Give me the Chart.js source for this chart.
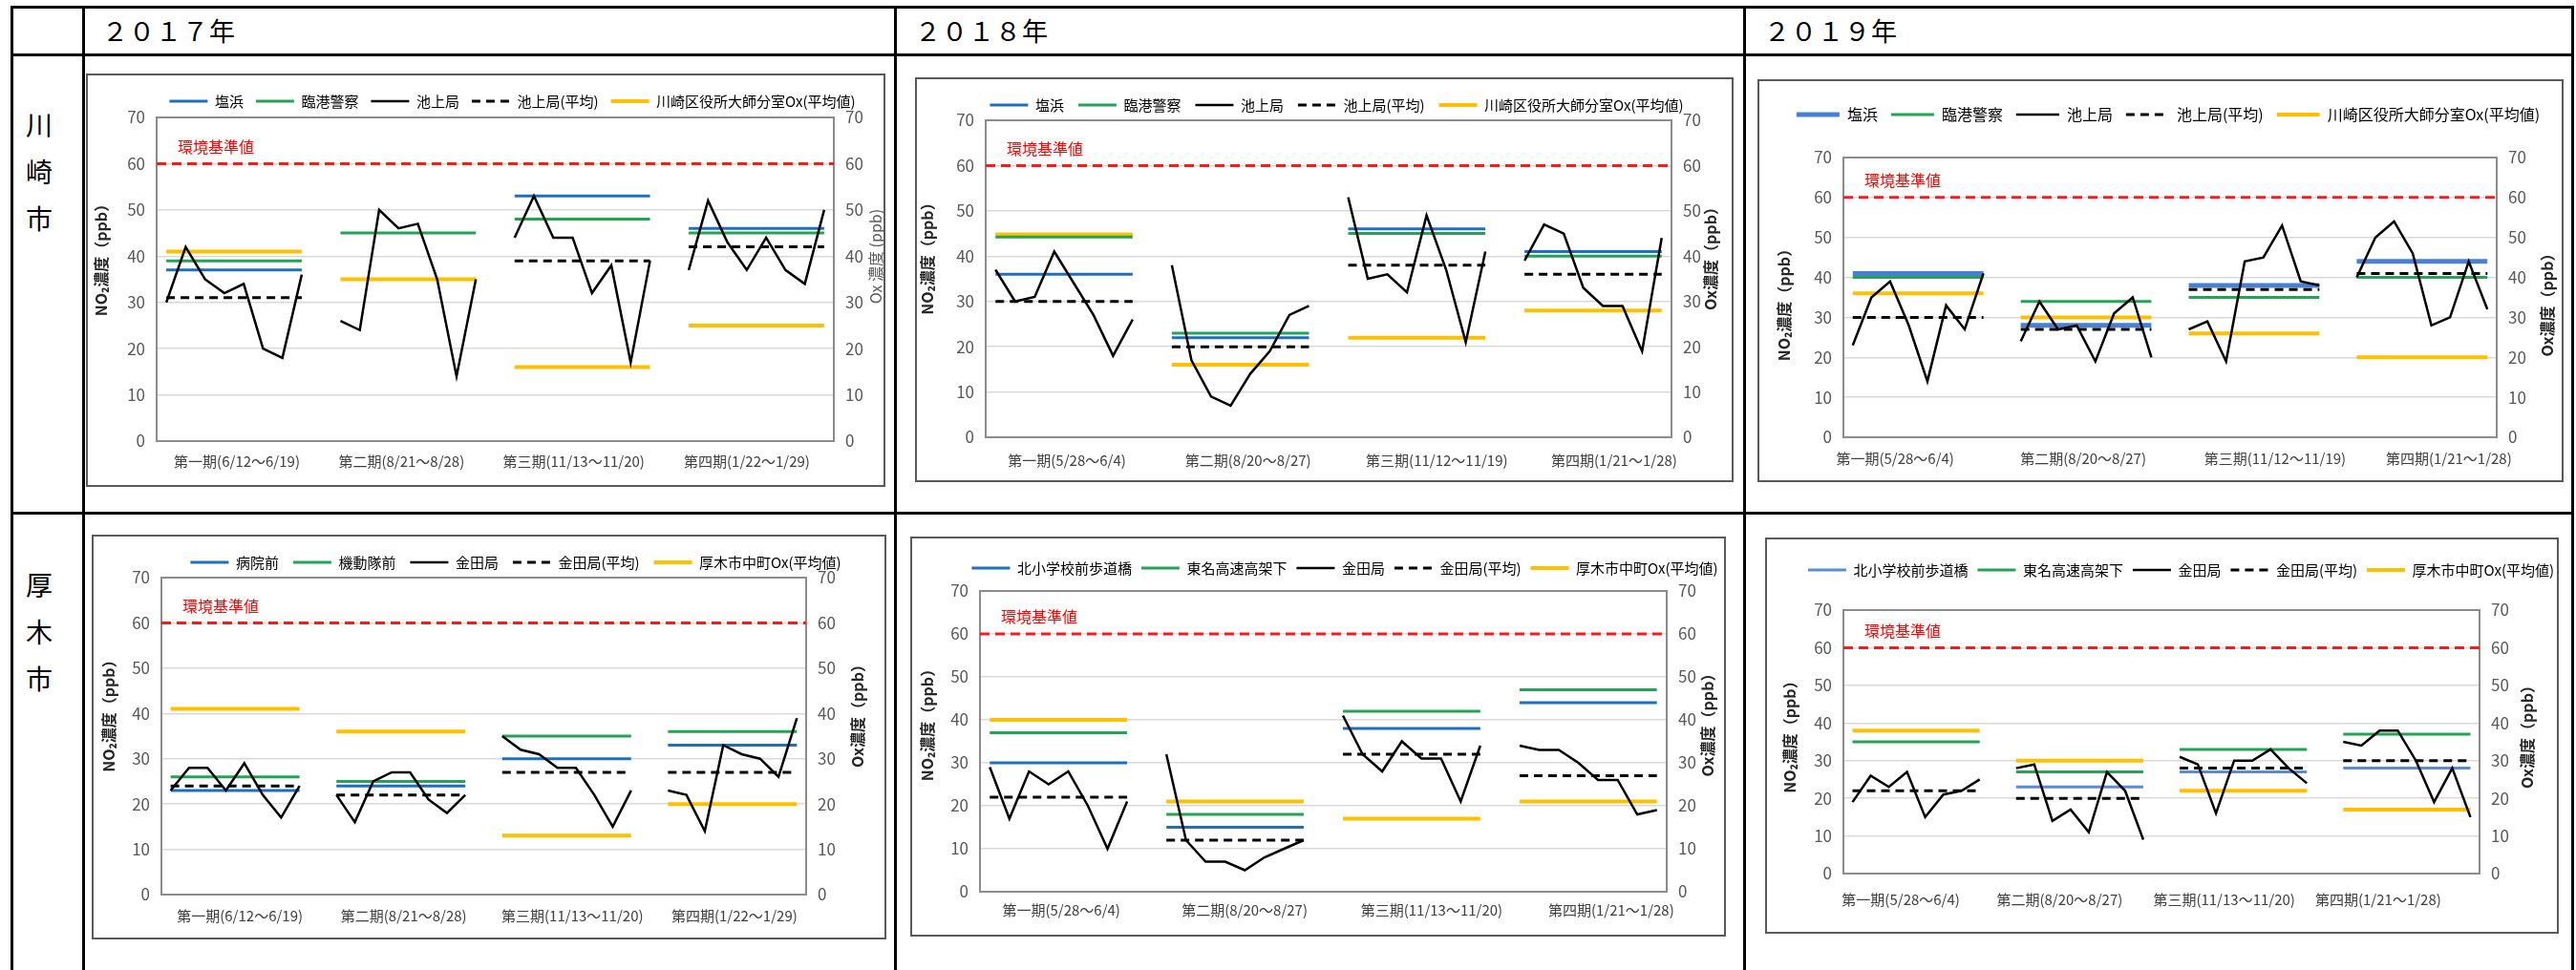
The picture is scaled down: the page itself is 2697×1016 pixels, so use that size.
<!DOCTYPE html>
<html lang="ja">
<head>
<meta charset="utf-8">
<title>NO2・Ox濃度の推移</title>
<script src="https://cdn.jsdelivr.net/npm/chart.js@4.4.1/dist/chart.umd.min.js"></script>
<style>
  html, body { margin: 0; padding: 0; background: #fff; overflow: hidden; }
  body { position: relative; width: 2697px; height: 1016px; font-family: "Noto Sans CJK JP", sans-serif; color: #000; }
  .hline { position: absolute; height: 3px; background: #000; }
  .vline { position: absolute; width: 3px; background: #000; }
  .year { position: absolute; top: 14px; font-size: 27px; line-height: 36px; letter-spacing: 1px; }
  .city { position: absolute; left: 26px; width: 30px; font-size: 28px; line-height: 49px; text-align: center; }
  .frame { position: absolute; border: 2px solid #5a5a5a; box-sizing: border-box; }
  canvas { position: absolute; }
</style>
</head>
<body>
<div class="hline" style="left:11px; top:6px; width:2684px;"></div>
<div class="hline" style="left:11px; top:56px; width:2684px;"></div>
<div class="hline" style="left:11px; top:536px; width:2684px;"></div>
<div class="vline" style="left:11px; top:6px; height:1020px;"></div>
<div class="vline" style="left:86px; top:6px; height:1020px;"></div>
<div class="vline" style="left:936px; top:6px; height:1020px;"></div>
<div class="vline" style="left:1825px; top:6px; height:1020px;"></div>
<div class="vline" style="left:2692px; top:6px; height:1020px;"></div>

<div class="year" style="left:107px;">２０１７年</div>
<div class="year" style="left:958px;">２０１８年</div>
<div class="year" style="left:1847px;">２０１９年</div>

<div class="city" style="top:106px;">川<br>崎<br>市</div>
<div class="city" style="top:588px;">厚<br>木<br>市</div>

<script>
// ---- data ----
const standardNO2 = 60;
const standardLabel = "環境基準値";

const kawasakiNames = ["塩浜", "臨港警察", "池上局", "池上局(平均)", "川崎区役所大師分室Ox(平均値)"];
const atsugiNames2017 = ["病院前", "機動隊前", "金田局", "金田局(平均)", "厚木市中町Ox(平均値)"];
const atsugiNames = ["北小学校前歩道橋", "東名高速高架下", "金田局", "金田局(平均)", "厚木市中町Ox(平均値)"];

const periods2017 = ["第一期(6/12～6/19)", "第二期(8/21～8/28)", "第三期(11/13～11/20)", "第四期(1/22～1/29)"];
const periodsKawasaki = ["第一期(5/28～6/4)", "第二期(8/20～8/27)", "第三期(11/12～11/19)", "第四期(1/21～1/28)"];
const periodsAtsugi = ["第一期(5/28～6/4)", "第二期(8/20～8/27)", "第三期(11/13～11/20)", "第四期(1/21～1/28)"];

// 川崎市 2017
const kawasaki2017Daily = [
  [30, 42, 35, 32, 34, 20, 18, 36],
  [26, 24, 50, 46, 47, 35, 14, 35],
  [44, 53, 44, 44, 32, 38, 17, 39],
  [37, 52, 43, 37, 44, 37, 34, 50]
];
const kawasaki2017Site1 = [37, null, 53, 46];
const kawasaki2017Site2 = [39, 45, 48, 45];
const kawasaki2017Avg = [31, null, 39, 42];
const kawasaki2017Ox = [41, 35, 16, 25];

// 川崎市 2018
const kawasaki2018Daily = [
  [37, 30, 31, 41, 34, 27, 18, 26],
  [38, 17, 9, 7, 14, 19, 27, 29],
  [53, 35, 36, 32, 49, 37, 21, 41],
  [39, 47, 45, 33, 29, 29, 19, 44]
];
const kawasaki2018Site1 = [36, 22, 46, 41];
const kawasaki2018Site2 = [44.2, 23, 45, 40];
const kawasaki2018Avg = [30, 20, 38, 36];
const kawasaki2018Ox = [44.8, 16, 22, 28];

// 川崎市 2019
const kawasaki2019Daily = [
  [23, 35, 39, 28, 14, 33, 27, 41],
  [24, 34, 27, 28, 19, 31, 35, 20],
  [27, 29, 19, 44, 45, 53, 39, 38],
  [40, 50, 54, 46, 28, 30, 44, 32]
];
const kawasaki2019Site1 = [41, 28, 38, 44];
const kawasaki2019Site2 = [40, 34, 35, 40];
const kawasaki2019Avg = [30, 27, 37, 41];
const kawasaki2019Ox = [36, 30, 26, 20];

// 厚木市 2017
const atsugi2017Daily = [
  [23, 28, 28, 23, 29, 22, 17, 24],
  [22, 16, 25, 27, 27, 21, 18, 22],
  [35, 32, 31, 28, 28, 22, 15, 23],
  [23, 22, 14, 33, 31, 30, 26, 39]
];
const atsugi2017Site1 = [23, 24, 30, 33];
const atsugi2017Site2 = [26, 25, 35, 36];
const atsugi2017Avg = [24, 22, 27, 27];
const atsugi2017Ox = [41, 36, 13, 20];

// 厚木市 2018
const atsugi2018Daily = [
  [29, 17, 28, 25, 28, 20, 10, 21],
  [32, 12, 7, 7, 5, 8, 10, 12],
  [41, 32, 28, 35, 31, 31, 21, 34],
  [34, 33, 33, 30, 26, 26, 18, 19]
];
const atsugi2018Site1 = [30, 15, 38, 44];
const atsugi2018Site2 = [37, 18, 42, 47];
const atsugi2018Avg = [22, 12, 32, 27];
const atsugi2018Ox = [40, 21, 17, 21];

// 厚木市 2019
const atsugi2019Daily = [
  [19, 26, 23, 27, 15, 21, 22, 25],
  [28, 29, 14, 17, 11, 27, 22, 9],
  [31, 29, 16, 30, 30, 33, 28, 24],
  [35, 34, 38, 38, 30, 19, 28, 15]
];
const atsugi2019Site1 = [null, 23, 27, 28];
const atsugi2019Site2 = [35, 27, 33, 37];
const atsugi2019Avg = [22, 20, 28, 30];
const atsugi2019Ox = [38, 30, 22, 17];

// ---- drawing ----
const FONT = '"Noto Sans CJK JP", "Noto Sans", sans-serif';
Chart.defaults.font.family = FONT;

const DAYS = 8;
const STEP = 9; // 8 days + 1 empty slot between periods
const SLOTS = STEP * 4 - 1;

function flatSeries(values) {
  const pts = [];
  values.forEach(function (v, p) {
    if (v === null) return;
    pts.push({ x: p * STEP, y: v }, { x: p * STEP + DAYS - 1, y: v }, { x: p * STEP + DAYS, y: null });
  });
  return pts;
}

function dailySeries(rows) {
  const pts = [];
  rows.forEach(function (row, p) {
    row.forEach(function (v, d) {
      pts.push({ x: p * STEP + d, y: v });
    });
    pts.push({ x: p * STEP + DAYS, y: null });
  });
  return pts;
}

const decorPlugin = {
  id: "decor",
  afterLayout(chart, args, opts) {
    // legend sits a little right of centre in the original
    if (chart.legend) {
      chart.legend.left += opts.legendShift;
      chart.legend.right += opts.legendShift;
    }
  },
  beforeDatasetsDraw(chart) {
    const a = chart.chartArea;
    const ctx = chart.ctx;
    ctx.save();
    ctx.strokeStyle = "#8c8c8c";
    ctx.lineWidth = 2;
    ctx.strokeRect(a.left, a.top, a.right - a.left, a.bottom - a.top);
    ctx.restore();
  },
  afterDraw(chart, args, opts) {
    const ctx = chart.ctx;
    const a = chart.chartArea;
    const y = chart.scales.y;
    ctx.save();
    ctx.fillStyle = "#ff0000";
    ctx.font = "16px " + FONT;
    ctx.textAlign = "left";
    ctx.textBaseline = "middle";
    ctx.fillText(standardLabel, a.left + 22, y.getPixelForValue(standardNO2) - 18);

    const cy = (a.top + a.bottom) / 2 + opts.titleShift;
    const titles = [
      [opts.leftX, "NO₂濃度（ppb）", "#262626", "bold "],
      [opts.rightX, opts.rightTitle, opts.rightColor, opts.rightWeight]
    ];
    titles.forEach(function (t) {
      ctx.save();
      ctx.translate(t[0], cy);
      ctx.rotate(-Math.PI / 2);
      ctx.textAlign = "center";
      ctx.textBaseline = "middle";
      ctx.fillStyle = t[2];
      ctx.font = t[3] + "16px " + FONT;
      ctx.fillText(t[1], 0, 0);
      ctx.restore();
    });
    ctx.restore();
  }
};

function makeChart(spec) {
  const box = spec.box;
  const ox = box.frame[0] + 2;
  const oy = box.frame[1] + 2;
  const cw = box.frame[2] - box.frame[0] - 4;
  const ch = box.frame[3] - box.frame[1] - 4;

  const frame = document.createElement("div");
  frame.className = "frame";
  frame.style.left = box.frame[0] + "px";
  frame.style.top = box.frame[1] + "px";
  frame.style.width = (box.frame[2] - box.frame[0]) + "px";
  frame.style.height = (box.frame[3] - box.frame[1]) + "px";
  document.body.appendChild(frame);

  const canvas = document.createElement("canvas");
  canvas.width = cw;
  canvas.height = ch;
  canvas.style.left = ox + "px";
  canvas.style.top = oy + "px";
  canvas.style.width = cw + "px";
  canvas.style.height = ch + "px";
  document.body.appendChild(canvas);

  const plotL = box.plot[0] - ox;
  const plotT = box.plot[1] - oy;
  const plotR = box.plot[2] - ox;
  const plotB = box.plot[3] - oy;
  const pxPerSlot = (plotR - plotL) / SLOTS;
  const f = box.legendFont;
  const p = box.legendPad;
  const legTop = Math.max(0, box.legendY - oy - p - f / 2);
  const spacer = plotT - legTop - (2 * p + f);
  const labelPad = box.labelY - box.plot[3] - 9;

  const names = spec.names;
  const datasets = [
    { label: names[0], data: flatSeries(spec.site1), yAxisID: "y", borderColor: spec.blue, borderWidth: spec.blueWidth, order: 3 },
    { label: names[1], data: flatSeries(spec.site2), yAxisID: "y", borderColor: "#23a455", borderWidth: 3, order: 4 },
    { label: names[2], data: dailySeries(spec.daily), yAxisID: "y", borderColor: "#000000", borderWidth: 2.5, order: 1 },
    { label: names[3], data: flatSeries(spec.avg), yAxisID: "y", borderColor: "#000000", borderWidth: 3, borderDash: [9, 6], order: 2 },
    { label: names[4], data: flatSeries(spec.ox), yAxisID: "y1", borderColor: "#ffc000", borderWidth: 4, order: 5 },
    { label: standardLabel, data: [{ x: -0.5, y: standardNO2 }, { x: SLOTS - 0.5, y: standardNO2 }], yAxisID: "y", borderColor: "#ff1a1a", borderWidth: 3, borderDash: [10, 6], order: 6 }
  ];
  datasets.forEach(function (ds) {
    ds.pointRadius = 0;
    ds.spanGaps = false;
    ds.tension = 0;
    ds.fill = false;
  });

  const tickFont = { size: 17, family: FONT };

  new Chart(canvas.getContext("2d"), {
    type: "line",
    data: { datasets: datasets },
    options: {
      responsive: false,
      animation: false,
      devicePixelRatio: 1,
      layout: { padding: { top: legTop, left: 0, right: 0, bottom: 0 } },
      scales: {
        x: {
          type: "linear",
          min: -0.5,
          max: SLOTS - 0.5,
          grid: { display: false, drawTicks: false },
          border: { display: false },
          afterBuildTicks: function (scale) {
            scale.ticks = spec.periods.map(function (_, i) {
              return { value: i * STEP + (DAYS - 1) / 2 + box.labelShift[i] / pxPerSlot };
            });
          },
          ticks: {
            autoSkip: false,
            maxRotation: 0,
            padding: labelPad,
            color: "#404040",
            font: { size: 15, family: FONT },
            callback: function (value, index) {
              return spec.periods[index];
            }
          },
          afterFit: function (scale) {
            scale.height = ch - plotB;
          }
        },
        y: {
          position: "left",
          min: 0,
          max: 70,
          ticks: { stepSize: 10, padding: 12, color: "#595959", font: tickFont },
          grid: { color: "#d9d9d9", lineWidth: 1.5, drawTicks: false },
          border: { display: false },
          afterFit: function (scale) {
            scale.width = plotL;
          }
        },
        y1: {
          position: "right",
          min: 0,
          max: 70,
          ticks: { stepSize: 10, padding: 12, color: "#595959", font: tickFont },
          grid: { display: false, drawTicks: false },
          border: { display: false },
          afterFit: function (scale) {
            scale.width = cw - plotR;
          }
        }
      },
      plugins: {
        tooltip: { enabled: false },
        legend: {
          position: "top",
          align: "center",
          maxHeight: spacer < 0 ? plotT - legTop : undefined,
          labels: {
            usePointStyle: true,
            pointStyleWidth: box.legendLine,
            padding: p,
            color: "#595959",
            font: { size: f, family: FONT },
            generateLabels: function (chart) {
              return chart.data.datasets.slice(0, 5).map(function (ds, i) {
                return {
                  text: ds.label,
                  fillStyle: ds.borderColor,
                  strokeStyle: ds.borderColor,
                  lineWidth: ds.borderWidth,
                  lineDash: ds.borderDash || [],
                  pointStyle: "line",
                  hidden: false,
                  datasetIndex: i
                };
              });
            }
          }
        },
        subtitle: {
          display: spacer > 0,
          text: "",
          weight: 500,
          padding: 0,
          font: { size: Math.max(spacer, 1), lineHeight: 1 }
        },
        decor: {
          legendShift: box.legendShift,
          titleShift: box.titleShift,
          leftX: box.leftTitleX - ox,
          rightX: box.rightTitleX - ox,
          rightTitle: spec.rightTitle,
          rightColor: spec.rightColor,
          rightWeight: spec.rightWeight
        }
      }
    },
    plugins: [decorPlugin]
  });
}

const chartSpecs = [
  {
    names: kawasakiNames, periods: periods2017, daily: kawasaki2017Daily,
    site1: kawasaki2017Site1, site2: kawasaki2017Site2, avg: kawasaki2017Avg, ox: kawasaki2017Ox,
    blue: "#1f6fc0", blueWidth: 3, rightTitle: "Ox 濃度 (ppb)", rightColor: "#595959", rightWeight: "",
    box: { frame: [90, 77, 927, 510], plot: [164, 123, 873, 462], legendY: 106, labelY: 483, legendShift: 28,
      labelShift: [3, -7, -9, -10],
      legendFont: 15, legendPad: 13, legendLine: 40, leftTitleX: 106, rightTitleX: 917, titleShift: -24 }
  },
  {
    names: kawasakiNames, periods: periodsKawasaki, daily: kawasaki2018Daily,
    site1: kawasaki2018Site1, site2: kawasaki2018Site2, avg: kawasaki2018Avg, ox: kawasaki2018Ox,
    blue: "#1f6fc0", blueWidth: 3, rightTitle: "Ox濃度（ppb）", rightColor: "#262626", rightWeight: "bold ",
    box: { frame: [958, 81, 1815, 505], plot: [1032, 126, 1750, 458], legendY: 110, labelY: 482, legendShift: 13,
      labelShift: [3, 8, 21, 22],
      legendFont: 15, legendPad: 15, legendLine: 40, leftTitleX: 971, rightTitleX: 1791, titleShift: -25 }
  },
  {
    names: kawasakiNames, periods: periodsKawasaki, daily: kawasaki2019Daily,
    site1: kawasaki2019Site1, site2: kawasaki2019Site2, avg: kawasaki2019Avg, ox: kawasaki2019Ox,
    blue: "#4a80d2", blueWidth: 5, rightTitle: "Ox濃度（ppb）", rightColor: "#262626", rightWeight: "bold ",
    box: { frame: [1840, 83, 2684, 505], plot: [1930, 169, 2614, 458], legendY: 120, labelY: 480, legendShift: 8,
      labelShift: [-24, -3, 22, 28],
      legendFont: 16, legendPad: 14, legendLine: 45, leftTitleX: 1868, rightTitleX: 2667, titleShift: 4 }
  },
  {
    names: atsugiNames2017, periods: periods2017, daily: atsugi2017Daily,
    site1: atsugi2017Site1, site2: atsugi2017Site2, avg: atsugi2017Avg, ox: atsugi2017Ox,
    blue: "#1f6fc0", blueWidth: 3, rightTitle: "Ox濃度（ppb）", rightColor: "#262626", rightWeight: "bold ",
    box: { frame: [96, 560, 928, 984], plot: [169, 605, 844, 937], legendY: 589, labelY: 959, legendShift: 28,
      labelShift: [5, 3, 6, 2],
      legendFont: 15, legendPad: 15, legendLine: 40, leftTitleX: 114, rightTitleX: 898, titleShift: -25 }
  },
  {
    names: atsugiNames, periods: periodsAtsugi, daily: atsugi2018Daily,
    site1: atsugi2018Site1, site2: atsugi2018Site2, avg: atsugi2018Avg, ox: atsugi2018Ox,
    blue: "#1f6fc0", blueWidth: 3, rightTitle: "Ox濃度（ppb）", rightColor: "#262626", rightWeight: "bold ",
    box: { frame: [953, 562, 1807, 981], plot: [1026, 619, 1745, 934], legendY: 595, labelY: 953, legendShift: 28,
      labelShift: [3, 10, 21, 24],
      legendFont: 15, legendPad: 10, legendLine: 40, leftTitleX: 971, rightTitleX: 1788, titleShift: -21 }
  },
  {
    names: atsugiNames, periods: periodsAtsugi, daily: atsugi2019Daily,
    site1: atsugi2019Site1, site2: atsugi2019Site2, avg: atsugi2019Avg, ox: atsugi2019Ox,
    blue: "#5a8bd4", blueWidth: 3, rightTitle: "Ox濃度（ppb）", rightColor: "#262626", rightWeight: "bold ",
    box: { frame: [1848, 563, 2679, 978], plot: [1930, 639, 2596, 915], legendY: 597, labelY: 942, legendShift: 20,
      labelShift: [-16, -21, -20, -30],
      legendFont: 15, legendPad: 10, legendLine: 40, leftTitleX: 1874, rightTitleX: 2646, titleShift: -9 }
  }
];

chartSpecs.forEach(makeChart);
</script>
</body>
</html>
